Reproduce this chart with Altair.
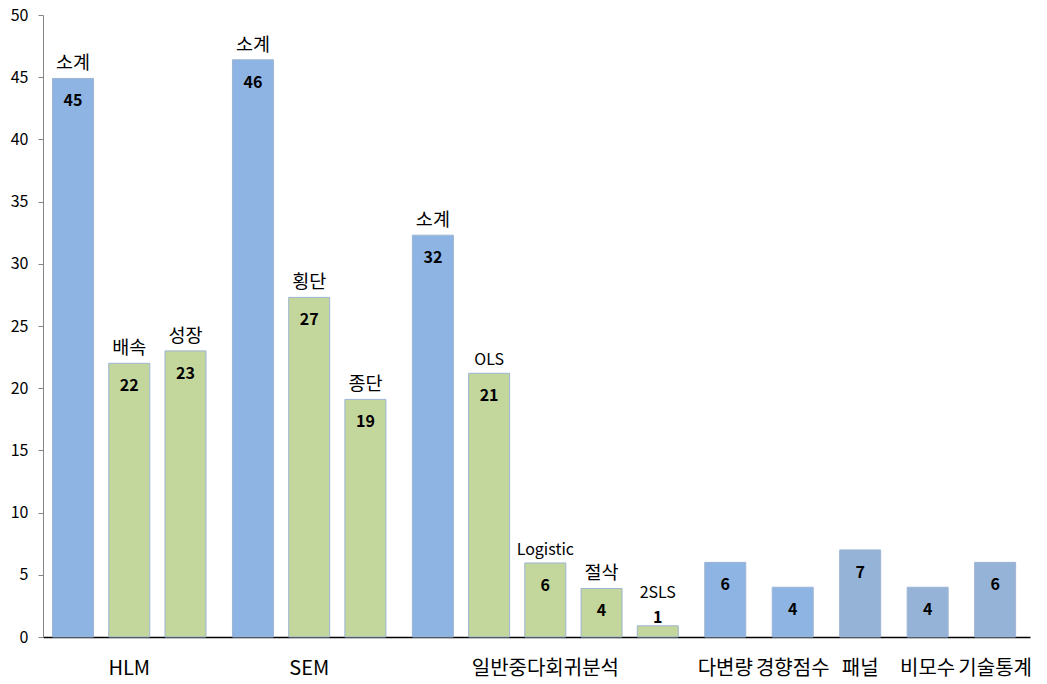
import altair as alt
import pandas as pd

groups = ["HLM", "HLM", "HLM", "SEM", "SEM", "SEM",
          "일반중다회귀분석", "일반중다회귀분석", "일반중다회귀분석", "일반중다회귀분석", "일반중다회귀분석",
          "다변량", "경향점수", "패널", "비모수", "기술통계"]
sub_labels = ["소계", "배속", "성장", "소계", "횡단", "종단",
              "소계", "OLS", "Logistic", "절삭", "2SLS",
              "", "", "", "", ""]
values = [44.9, 22.0, 23.0, 46.4, 27.3, 19.1,
          32.3, 21.2, 5.95, 3.9, 0.9,
          6, 4, 7, 4, 6]
kinds = ["total", "sub", "sub", "total", "sub", "sub",
         "total", "sub", "sub", "sub", "sub",
         "single", "single", "single2", "single2", "single2"]

FONT = "Noto Sans CJK KR"
GROUP_GAP = 0.2

df = pd.DataFrame({"group": groups, "sub": sub_labels, "value": values, "kind": kinds})
df["order"] = range(len(df))
df["gidx"] = (df["group"] != df["group"].shift()).cumsum() - 1
df["pos"] = df["order"] + GROUP_GAP * df["gidx"]

W, H = 987, 622
xscale = alt.Scale(domain=[-0.534, 17.02], nice=False, zero=False, padding=0)
yscale = alt.Scale(domain=[0, 50], nice=False)

base = alt.Chart(df)
X = alt.X("pos:Q", scale=xscale)
Y = alt.Y("value:Q", scale=yscale)

bars = base.mark_bar(width=41, stroke="#9DB4D3", strokeWidth=1).encode(
    x=alt.X("pos:Q", scale=xscale,
            axis=alt.Axis(title=None, labels=False, ticks=False, grid=False,
                          domainColor="#000000", domainWidth=1.5)),
    y=alt.Y("value:Q", scale=yscale,
            axis=alt.Axis(title=None, values=list(range(0, 51, 5)), grid=False,
                          domainColor="#868686", tickColor="#868686", tickSize=5,
                          labelFontSize=16, labelColor="#000000", labelPadding=10,
                          labelFont=FONT)),
    color=alt.Color("kind:N", legend=None,
                    scale=alt.Scale(domain=["total", "sub", "single", "single2"],
                                    range=["#8EB4E3", "#C3D69B", "#8EB4E3", "#95B3D7"])),
)

# text size: Hangul glyphs set a bit larger to match the original's Korean face
size_calc = "test(/[가-힣]/, datum.sub) ? 18.5 : 16"

value_in = base.transform_filter("datum.value >= 2").mark_text(
    font=FONT, fontSize=16, fontWeight="bold", baseline="middle", dy=23,
    color="#000000").encode(x=X, y=Y, text=alt.Text("value:Q", format=".0f"))

value_out = base.transform_filter("datum.value < 2").mark_text(
    font=FONT, fontSize=16, fontWeight="bold", baseline="alphabetic", dy=-3,
    color="#000000").encode(x=X, y=Y, text=alt.Text("value:Q", format=".0f"))

sub_in = base.transform_filter("datum.value >= 2").transform_calculate(
    fs=size_calc).mark_text(font=FONT, baseline="bottom", dy=-5,
                            color="#000000").encode(
    x=X, y=Y, text="sub:N", size=alt.Size("fs:Q", scale=None, legend=None))

sub_out = base.transform_filter("datum.value < 2").transform_calculate(
    fs=size_calc).mark_text(font=FONT, baseline="bottom", dy=-25,
                            color="#000000").encode(
    x=X, y=Y, text="sub:N", size=alt.Size("fs:Q", scale=None, legend=None))

group_text = base.transform_aggregate(
    pos="mean(pos)", groupby=["group"]
).mark_text(font=FONT, fontSize=20, baseline="middle", color="#000000").encode(
    x=X, y=alt.value(H + 32), text="group:N",
)

chart = alt.layer(bars, value_in, value_out, sub_in, sub_out, group_text).properties(
    width=W, height=H,
    autosize=alt.AutoSizeParams(type="none"),
    padding={"left": 43, "top": 15, "right": 17, "bottom": 47},
    background="white",
).configure_view(stroke=None)

chart.save("out.html", embed_options={"renderer": "svg", "actions": False})
